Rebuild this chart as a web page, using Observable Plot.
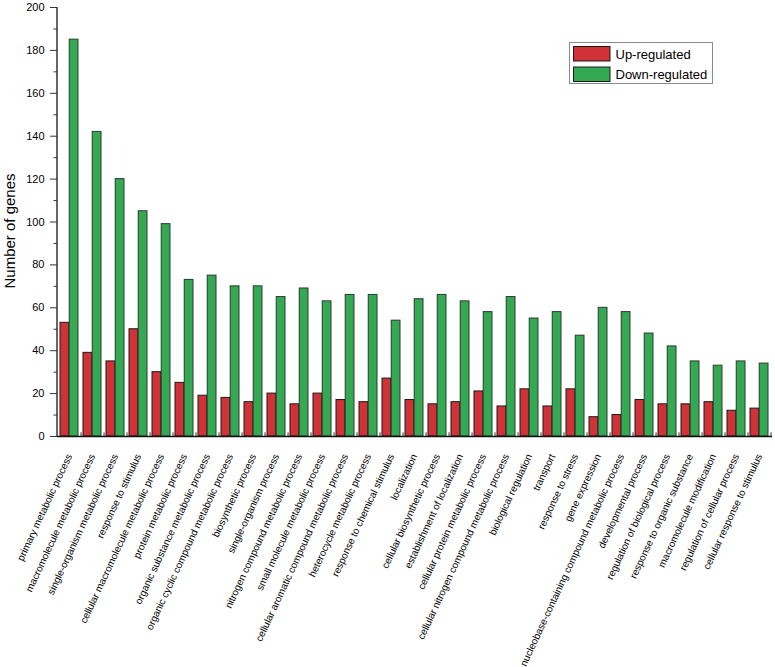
<!DOCTYPE html>
<html>
<head>
<meta charset="utf-8">
<script src="https://cdn.jsdelivr.net/npm/d3@7"></script>
<script src="https://cdn.jsdelivr.net/npm/@observablehq/plot@0.6"></script>
<style>
  html, body { margin: 0; padding: 0; background: #fff; }
  #chart svg { display: block; }
</style>
</head>
<body>
<div id="chart"></div>
<script>
const categories = [
  "primary metabolic process",
  "macromolecule metabolic process",
  "single-organism metabolic process",
  "response to stimulus",
  "cellular macromolecule metabolic process",
  "protein metabolic process",
  "organic substance metabolic process",
  "organic cyclic compound metabolic process",
  "biosynthetic process",
  "single-organism process",
  "nitrogen compound metabolic process",
  "small molecule metabolic process",
  "cellular aromatic compound metabolic process",
  "heterocycle metabolic process",
  "response to chemical stimulus",
  "localization",
  "cellular biosynthetic process",
  "establishment of localization",
  "cellular protein metabolic process",
  "cellular nitrogen compound metabolic process",
  "biological regulation",
  "transport",
  "response to stress",
  "gene expression",
  "nucleobase-containing compound metabolic process",
  "developmental process",
  "regulation of biological process",
  "response to organic substance",
  "macromolecule modification",
  "regulation of cellular process",
  "cellular response to stimulus"
];
const upRegulated = [53,39,35,50,30,25,19,18,16,20,15,20,17,16,27,17,15,16,21,14,22,14,22,9,10,17,15,15,16,12,13];
const downRegulated = [185,142,120,105,99,73,75,70,70,65,69,63,66,66,54,64,66,63,58,65,55,58,47,60,58,48,42,35,33,35,34];
const seriesNames = ["Up-regulated", "Down-regulated"];
const seriesColors = ["#d03238", "#34a853"];
const yMajorTicks = [0,20,40,60,80,100,120,140,160,180,200];
const yMinorTicks = [10,30,50,70,90,110,130,150,170,190];

const W = 775, H = 667;
const mL = 57, mR = 3, mT = 7, mB = 231;
const padInner = 0.2, padOuter = 0.1;
const step = (W - mL - mR) / (categories.length - padInner + 2 * padOuter);
const bw = step * (1 - padInner);

const table = categories.map((c, i) => ({cat: c, up: upRegulated[i], down: downRegulated[i]}));
const font = "'Liberation Sans', Arial, Helvetica, sans-serif";

const plot = Plot.plot({
  width: W, height: H,
  marginLeft: mL, marginRight: mR, marginTop: mT, marginBottom: mB,
  style: {fontFamily: font, color: "#000", background: "#fff"},
  x: {domain: categories, paddingInner: padInner, paddingOuter: padOuter, axis: null},
  y: {domain: [0, 200], axis: null},
  marks: [
    Plot.barY(table, {x: "cat", y: "up", fill: seriesColors[0], stroke: "#1a1a1a", strokeWidth: 1, insetRight: bw / 2}),
    Plot.barY(table, {x: "cat", y: "down", fill: seriesColors[1], stroke: "#2a3a2e", strokeWidth: 1, insetLeft: bw / 2}),
    Plot.ruleY([0], {stroke: "#111", strokeWidth: 1.5}),
    Plot.ruleX(categories, {x: d => d, dx: step / 2, y1: 0, y2: 1.7, stroke: "#333", strokeWidth: 1}),
    Plot.axisX({tickSize: 0, tickPadding: 18, tickRotate: -65, fontSize: 10, label: null}),
    Plot.axisY({ticks: yMajorTicks, tickSize: 7, tickPadding: 6, fontSize: 11, label: null, stroke: "#333"}),
    Plot.axisY({ticks: yMinorTicks, tickSize: 3.5, tickFormat: () => "", label: null, stroke: "#333"})
  ]
});

document.getElementById("chart").appendChild(plot);

const svg = d3.select(plot);
// y-axis line
const ys = plot.scale("y");
svg.append("line")
  .attr("x1", mL).attr("x2", mL)
  .attr("y1", ys.apply(200)).attr("y2", ys.apply(0))
  .attr("stroke", "#333").attr("stroke-width", 1.5);

// y-axis title
svg.append("text")
  .attr("transform", `translate(14.5, ${(ys.apply(0) + ys.apply(200)) / 2 + 9.5}) rotate(-90)`)
  .attr("text-anchor", "middle")
  .attr("font-family", font).attr("font-size", 15).attr("fill", "#000")
  .text("Number of genes");

// legend
const lg = svg.append("g").attr("text-anchor", "start");
lg.append("rect").attr("x", 569.5).attr("y", 42.5).attr("width", 143).attr("height", 41)
  .attr("fill", "#fff").attr("stroke", "#8a8a8a").attr("stroke-width", 1);
seriesNames.forEach((name, i) => {
  const y0 = 46.5 + i * 20.5;
  lg.append("rect").attr("x", 573.5).attr("y", y0).attr("width", 36.5).attr("height", 14.5)
    .attr("fill", seriesColors[i]).attr("stroke", "#1a1a1a").attr("stroke-width", 1);
  lg.append("text").attr("x", 615.5).attr("y", y0 + 7.5).attr("dy", "0.35em")
    .attr("text-anchor", "start")
    .attr("font-family", font).attr("font-size", 13).attr("fill", "#000")
    .text(name);
});
</script>
</body>
</html>
